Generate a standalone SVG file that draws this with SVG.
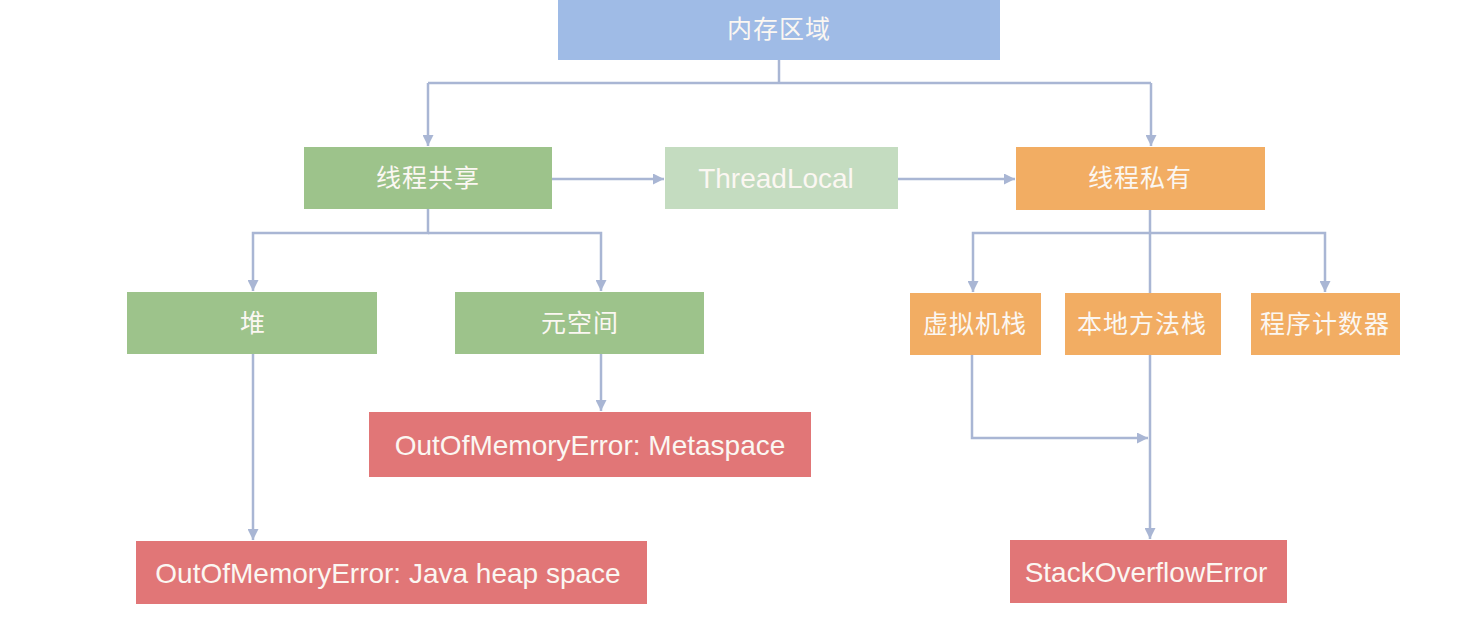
<svg xmlns="http://www.w3.org/2000/svg" width="1480" height="630" viewBox="0 0 1480 630">
<style>
.t{font-family:"Liberation Sans","Noto Sans CJK SC",sans-serif;fill:#fbf7f2;text-anchor:middle;dominant-baseline:central}
.cn{font-size:25px;letter-spacing:1px}
.en{font-size:28px}
.blue{fill:#9fbbe6}
.green{fill:#9dc38b}
.lgreen{fill:#c4dcc0}
.orange{fill:#f2ad63}
.red{fill:#e17677}
.c{fill:none;stroke:#a9b6d4;stroke-width:2.5}
</style>
<defs>
<marker id="ah" viewBox="0 0 10 10" refX="10" refY="5" markerWidth="4.4" markerHeight="4.4" orient="auto" markerUnits="strokeWidth">
<path d="M0,0 L10,5 L0,10 z" fill="#a9b6d4"/>
</marker>
</defs>
<rect width="1480" height="630" fill="#ffffff"/>
<g id="connectors">
<path class="c" d="M779,60 V83"/>
<path class="c" d="M428,83 H1151"/>
<path class="c" d="M428,83 V146" marker-end="url(#ah)"/>
<path class="c" d="M1151,83 V146" marker-end="url(#ah)"/>
<path class="c" d="M552,179 H664" marker-end="url(#ah)"/>
<path class="c" d="M898,179 H1015" marker-end="url(#ah)"/>
<path class="c" d="M428,209 V233 H253 V291" marker-end="url(#ah)"/>
<path class="c" d="M428,233 H601 V291" marker-end="url(#ah)"/>
<path class="c" d="M601,354 V411" marker-end="url(#ah)"/>
<path class="c" d="M253,354 V540" marker-end="url(#ah)"/>
<path class="c" d="M1150,210 V539" marker-end="url(#ah)"/>
<path class="c" d="M1150,233 H973 V292" marker-end="url(#ah)"/>
<path class="c" d="M1150,233 H1325 V292" marker-end="url(#ah)"/>
<path class="c" d="M972,355 V438 H1148" marker-end="url(#ah)"/>
</g>
<g id="memory-area"><rect class="blue" x="558" y="0" width="442" height="60"/><text class="t cn" x="779" y="29">内存区域</text></g>
<g id="thread-shared"><rect class="green" x="304" y="147" width="248" height="62"/><text class="t cn" x="428" y="178">线程共享</text></g>
<g id="threadlocal"><rect class="lgreen" x="665" y="147" width="233" height="62"/><text class="t en" x="776" y="178">ThreadLocal</text></g>
<g id="thread-private"><rect class="orange" x="1016" y="147" width="249" height="63"/><text class="t cn" x="1140" y="178">线程私有</text></g>
<g id="heap"><rect class="green" x="127" y="292" width="250" height="62"/><text class="t cn" x="253" y="323">堆</text></g>
<g id="metaspace"><rect class="green" x="455" y="292" width="249" height="62"/><text class="t cn" x="580" y="323">元空间</text></g>
<g id="vm-stack"><rect class="orange" x="910" y="293" width="131" height="62"/><text class="t cn" x="975" y="324">虚拟机栈</text></g>
<g id="native-stack"><rect class="orange" x="1065" y="293" width="156" height="62"/><text class="t cn" x="1142" y="324">本地方法栈</text></g>
<g id="pc-register"><rect class="orange" x="1251" y="293" width="149" height="62"/><text class="t cn" x="1325" y="324">程序计数器</text></g>
<g id="oom-metaspace"><rect class="red" x="369" y="412" width="442" height="65"/><text class="t en" x="590" y="445">OutOfMemoryError: Metaspace</text></g>
<g id="oom-heap"><rect class="red" x="136" y="541" width="511" height="63"/><text class="t en" x="388" y="573">OutOfMemoryError: Java heap space</text></g>
<g id="stackoverflow"><rect class="red" x="1010" y="540" width="277" height="63"/><text class="t en" x="1146" y="572">StackOverflowError</text></g>
</svg>
